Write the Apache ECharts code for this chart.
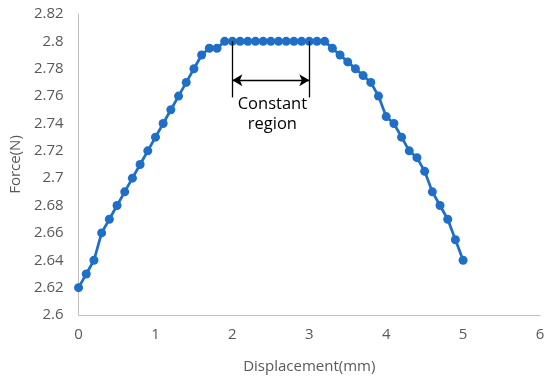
<!DOCTYPE html>
<html>
<head>
<meta charset="utf-8">
<script src="https://cdn.jsdelivr.net/npm/echarts@6/dist/echarts.min.js"></script>
<style>
  html, body { margin: 0; padding: 0; background: #fff; }
  #chart { width: 550px; height: 381px; }
</style>
</head>
<body>
<div id="chart"></div>
<script>
// displacement (mm) and force (N)
var displacement = [
    0, 0.1, 0.2, 0.3, 0.4, 0.5, 0.6, 0.7, 0.8, 0.9,
    1, 1.1, 1.2, 1.3, 1.4, 1.5, 1.6, 1.7, 1.8, 1.9,
    2, 2.1, 2.2, 2.3, 2.4, 2.5, 2.6, 2.7, 2.8, 2.9,
    3, 3.1, 3.2, 3.3, 3.4, 3.5, 3.6, 3.7, 3.8, 3.9,
    4, 4.1, 4.2, 4.3, 4.4, 4.5, 4.6, 4.7, 4.8, 4.9, 5
];
var force = [
    2.62, 2.63, 2.64, 2.66, 2.67, 2.68, 2.69, 2.70, 2.71, 2.72,
    2.73, 2.74, 2.75, 2.76, 2.77, 2.78, 2.79, 2.795, 2.795, 2.80,
    2.80, 2.80, 2.80, 2.80, 2.80, 2.80, 2.80, 2.80, 2.80, 2.80,
    2.80, 2.80, 2.80, 2.795, 2.79, 2.785, 2.78, 2.775, 2.77, 2.76,
    2.745, 2.74, 2.73, 2.72, 2.715, 2.705, 2.69, 2.68, 2.67, 2.655, 2.64
];

// the "constant region" annotation
var regionStart = 2;
var regionEnd = 3;
var regionTop = 2.8;
var regionBottom = 2.759;
var arrowLevel = 2.7715;
var regionLabel = 'Constant\nregion';

var blue = '#1f6fc6';
var font = 'Open Sans';

var points = displacement.map(function (x, i) { return [x, force[i]]; });

var chart = echarts.init(document.getElementById('chart'), null, { renderer: 'canvas' });

chart.setOption({
    animation: false,
    textStyle: { fontFamily: font },
    grid: { left: 78, right: 10, top: 14, bottom: 66, containLabel: false },
    xAxis: {
        type: 'value',
        min: 0,
        max: 6,
        interval: 1,
        name: 'Displacement(mm)',
        nameLocation: 'middle',
        nameGap: 44,
        nameTextStyle: { color: '#595959', fontSize: 15, fontFamily: font },
        axisLine: { show: true, lineStyle: { color: '#bfbfbf', width: 1 } },
        axisTick: { show: false },
        splitLine: { show: false },
        axisLabel: { color: '#595959', fontSize: 15, margin: 12 }
    },
    yAxis: {
        type: 'value',
        min: 2.6,
        max: 2.82,
        interval: 0.02,
        name: 'Force(N)',
        nameLocation: 'middle',
        nameGap: 55,
        nameTextStyle: { color: '#595959', fontSize: 15, fontFamily: font },
        axisLine: { show: true, lineStyle: { color: '#bfbfbf', width: 1 } },
        axisTick: { show: false },
        splitLine: { show: false },
        axisLabel: {
            color: '#595959',
            fontSize: 15,
            margin: 15,
            formatter: function (v) { return String(parseFloat(v.toFixed(2))); }
        }
    },
    series: [
        {
            type: 'line',
            data: points,
            symbol: 'circle',
            symbolSize: 9,
            showAllSymbol: true,
            lineStyle: { color: blue, width: 2.75 },
            itemStyle: { color: blue },
            z: 3
        },
        {
            // annotation: brackets, double arrow and text
            type: 'line',
            data: [],
            markLine: {
                silent: true,
                animation: false,
                label: { show: false },
                lineStyle: { color: '#000', width: 1.3, type: 'solid' },
                data: [
                    [{ coord: [regionStart, regionTop], symbol: 'none' }, { coord: [regionStart, regionBottom], symbol: 'none' }],
                    [{ coord: [regionEnd, regionTop], symbol: 'none' }, { coord: [regionEnd, regionBottom], symbol: 'none' }],
                    [{ coord: [regionStart, arrowLevel], symbol: 'arrow', symbolSize: [9, 10] },
                     { coord: [regionEnd, arrowLevel], symbol: 'arrow', symbolSize: [9, 10] }]
                ]
            },
            markPoint: {
                silent: true,
                symbol: 'rect',
                symbolSize: 0,
                label: {
                    show: true,
                    position: 'inside',
                    color: '#000',
                    fontSize: 16.5,
                    lineHeight: 20,
                    fontFamily: font,
                    formatter: regionLabel
                },
                data: [{ coord: [(regionStart + regionEnd) / 2 + 0.02, 2.747] }]
            },
            z: 2
        }
    ]
});
</script>
</body>
</html>
